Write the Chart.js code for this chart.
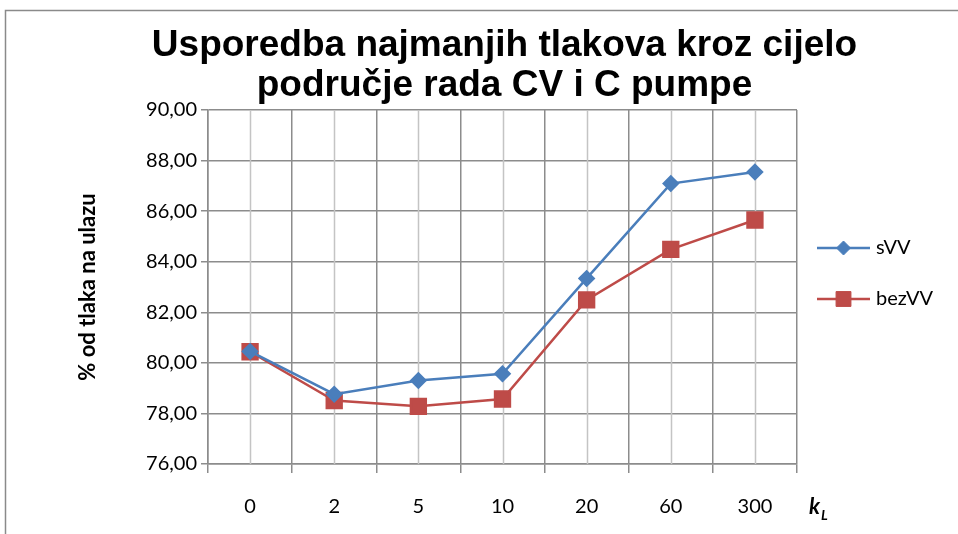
<!DOCTYPE html>
<html>
<head>
<meta charset="utf-8">
<title>Usporedba najmanjih tlakova</title>
<script src="https://cdn.jsdelivr.net/npm/chart.js@4.4.1/dist/chart.umd.min.js"></script>
<style>
  html, body { margin: 0; padding: 0; background: #fff; }
  #wrap { position: relative; width: 958px; height: 534px; }
</style>
</head>
<body>
<div id="wrap"><canvas id="chart"></canvas></div>
<script>
  "use strict";

  // k_L vrijednosti (kategorije na x osi)
  const kL = ["0", "2", "5", "10", "20", "60", "300"];
  // najmanji tlak, % od tlaka na ulazu
  const sVV = [80.45, 78.76, 79.30, 79.57, 83.34, 87.09, 87.55];
  const bezVV = [80.44, 78.51, 78.28, 78.57, 82.49, 84.49, 85.65];
  // raspon y osi
  const yMin = 76;
  const yMax = 90;
  const yStep = 2;
  const titleLines = ["Usporedba najmanjih tlakova kroz cijelo", "područje rada CV i C pumpe"];

  const BLUE = "#4a7ebb";
  const RED = "#be4b48";
  const GRID = "#8c8c8c";
  const GRID_LIGHT = "#c4c4c4";
  const TXT = "#000";
  const BODY_FONT = "Lato, 'Open Sans', sans-serif";

  // okvir oko cijelog grafa
  const framePlugin = {
    id: "frame",
    beforeDraw(chart) {
      const ctx = chart.ctx;
      ctx.save();
      ctx.strokeStyle = "#8a8a8a";
      ctx.lineWidth = 1.5;
      ctx.beginPath();
      ctx.moveTo(5.5, chart.height);
      ctx.lineTo(5.5, 10.5);
      ctx.lineTo(chart.width, 10.5);
      ctx.stroke();
      ctx.restore();
    },
  };

  // svijetle okomite linije kroz sredinu svake kategorije
  const midLinesPlugin = {
    id: "midLines",
    beforeDatasetsDraw(chart) {
      const { ctx, chartArea, scales } = chart;
      ctx.save();
      ctx.strokeStyle = GRID_LIGHT;
      ctx.lineWidth = 1.5;
      kL.forEach((_, i) => {
        const x = Math.round(scales.x.getPixelForValue(i)) + 0.5;
        ctx.beginPath();
        ctx.moveTo(x, chartArea.top);
        ctx.lineTo(x, chartArea.bottom);
        ctx.stroke();
      });
      ctx.restore();
    },
  };

  // naslov iznad područja crtanja, legenda desno (linija + marker) i oznaka k_L
  const sideTextPlugin = {
    id: "sideText",
    afterDraw(chart) {
      const { ctx, chartArea } = chart;
      ctx.save();

      ctx.fillStyle = TXT;
      ctx.font = "bold 37px 'Liberation Sans', Arial, sans-serif";
      ctx.textAlign = "center";
      ctx.textBaseline = "middle";
      const cx = (chartArea.left + chartArea.right) / 2 + 2;
      titleLines.forEach((t, i) => ctx.fillText(t, cx, 46 + i * 40));

      const x0 = 817, x1 = 870;
      const rows = [248, 299];
      chart.data.datasets.forEach((ds, i) => {
        const y = rows[i];
        ctx.strokeStyle = ds.borderColor;
        ctx.fillStyle = ds.pointBackgroundColor;
        ctx.lineWidth = ds.borderWidth;
        ctx.beginPath();
        ctx.moveTo(x0, y);
        ctx.lineTo(x1, y);
        ctx.stroke();
        ctx.lineWidth = 1;
        Chart.helpers.drawPoint(ctx, {
          pointStyle: ds.pointStyle,
          radius: ds.pointRadius,
          borderWidth: 1,
          rotation: 0,
        }, (x0 + x1) / 2, y);
        ctx.fillStyle = TXT;
        ctx.font = "20px " + BODY_FONT;
        ctx.textAlign = "left";
        ctx.textBaseline = "middle";
        ctx.fillText(ds.label, x1 + 6, y);
      });

      ctx.fillStyle = TXT;
      ctx.font = "italic bold 22px " + BODY_FONT;
      ctx.textBaseline = "alphabetic";
      ctx.fillText("k", 809, 514);
      ctx.font = "italic bold 14px " + BODY_FONT;
      ctx.fillText("L", 821, 520);
      ctx.restore();
    },
  };

  function fmt(v) {
    return v.toFixed(2).replace(".", ",");
  }

  new Chart(document.getElementById("chart"), {
    type: "line",
    data: {
      labels: kL,
      datasets: [
        {
          label: "sVV",
          data: sVV,
          borderColor: BLUE,
          backgroundColor: BLUE,
          pointBackgroundColor: BLUE,
          pointBorderColor: BLUE,
          borderWidth: 2.5,
          pointStyle: "rectRot",
          pointRadius: 7,
          pointHoverRadius: 7,
          tension: 0,
        },
        {
          label: "bezVV",
          data: bezVV,
          borderColor: RED,
          backgroundColor: RED,
          pointBackgroundColor: RED,
          pointBorderColor: RED,
          borderWidth: 2.5,
          pointStyle: "rect",
          pointRadius: 10.5,
          pointHoverRadius: 10.5,
          tension: 0,
        },
      ],
    },
    options: {
      responsive: true,
      maintainAspectRatio: false,
      animation: false,
      layout: { padding: { top: 110, left: 62, right: 161, bottom: 0 } },
      plugins: {
        legend: { display: false },
        tooltip: { enabled: false },
        title: { display: false },
      },
      scales: {
        x: {
          offset: true,
          afterFit(scale) { scale.height = 70; },
          grid: { offset: true, color: GRID, lineWidth: 1.5, tickLength: 9, drawOnChartArea: true },
          border: { color: GRID, width: 1.5 },
          ticks: { color: TXT, padding: 22, font: { family: BODY_FONT, size: 20 } },
        },
        y: {
          min: yMin,
          max: yMax,
          afterFit(scale) { scale.width = 146; },
          grid: { color: GRID, lineWidth: 1.5, tickLength: 7 },
          border: { color: GRID, width: 1.5 },
          ticks: {
            stepSize: yStep,
            color: TXT,
            padding: 4,
            font: { family: BODY_FONT, size: 20 },
            callback: (v) => fmt(v),
          },
          title: {
            display: true,
            text: "% od tlaka na ulazu",
            color: TXT,
            font: { family: BODY_FONT, size: 22, weight: "bold", lineHeight: 1.2 },
            padding: { top: 13, bottom: 0 },
          },
        },
      },
    },
    plugins: [framePlugin, midLinesPlugin, sideTextPlugin],
  });
</script>
</body>
</html>
